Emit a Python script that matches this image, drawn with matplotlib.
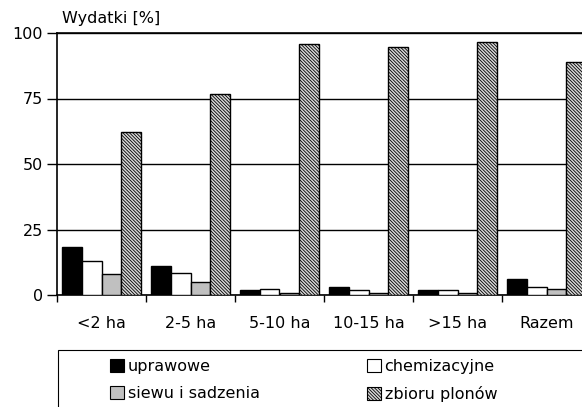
import matplotlib
matplotlib.use("Agg")
import matplotlib.pyplot as plt
from matplotlib.patches import Rectangle, Patch
import numpy as np

plt.rcParams['font.family'] = ['DejaVu Sans']
plt.rcParams['hatch.linewidth'] = 0.6
plt.rcParams['hatch.color'] = '#303030'

categories = ["<2 ha", "2-5 ha", "5-10 ha", "10-15 ha", ">15 ha", "Razem"]
series_names = ["uprawowe", "chemizacyjne", "siewu i sadzenia", "zbioru plonów"]
uprawowe = [18.2, 11.2, 1.9, 2.9, 1.9, 6.1]
chemizacyjne = [13.0, 8.3, 2.3, 1.8, 1.9, 2.9]
siewu = [7.9, 5.1, 0.9, 0.9, 0.9, 2.4]
zbioru = [62.1, 76.8, 95.8, 94.8, 96.7, 88.8]
yticks = [0, 25, 50, 75, 100]

FS = 11.5
W, H = 582, 407
fig = plt.figure(figsize=(W / 100, H / 100), dpi=100)
left, right, top, bottom = 57, 591, 33, 295
ax = fig.add_axes([left / W, 1 - bottom / H, (right - left) / W, (bottom - top) / H])

x = np.arange(len(categories))
bw = 0.224
styles = [
    dict(facecolor="black", edgecolor="black"),
    dict(facecolor="white", edgecolor="black"),
    dict(facecolor="#c0c0c0", edgecolor="black"),
    dict(facecolor="#d8d8d8", edgecolor="black", hatch="\\" * 10),
]
data = [uprawowe, chemizacyjne, siewu, zbioru]
handles = []
for i, (vals, st) in enumerate(zip(data, styles)):
    ax.bar(x + (i - 1.5) * bw, vals, width=bw, linewidth=1.0, zorder=3, **st)
    handles.append(Patch(linewidth=0.8, label=series_names[i], **st))

ax.set_xlim(-0.5, len(categories) - 0.5)
ax.set_ylim(0, 100)
ax.set_yticks(yticks)
ax.set_yticklabels([str(v) for v in yticks], fontsize=FS)
ax.tick_params(axis="y", length=7, width=1, pad=3, direction="out")
ax.yaxis.grid(True, color="black", linewidth=1)
ax.set_axisbelow(True)
ax.set_xticks(x)
ax.set_xticklabels(categories, fontsize=FS)
ax.tick_params(axis="x", length=0, pad=15)
ax.set_xticks(np.arange(-0.5, len(categories)), minor=True)
ax.tick_params(axis="x", which="minor", length=5, width=1, color="black")
for s in ["left", "top", "bottom"]:
    ax.spines[s].set_linewidth(1.2)
ax.spines["right"].set_visible(False)

fig.text(62 / W, 1 - 19 / H, "Wydatki [%]", fontsize=FS, va="center", ha="left")

# legend frame
fig.patches.append(Rectangle((58 / W, -0.05), 1.0, 1 - 350 / H + 0.05,
                             transform=fig.transFigure, fill=False,
                             edgecolor="black", linewidth=0.8))
common = dict(loc="upper left", frameon=False, fontsize=FS, handlelength=0.85,
              handleheight=0.85, handletextpad=0.25, labelspacing=0.75,
              borderpad=0, borderaxespad=0)
fig.legend(handles=[handles[0], handles[2]],
           labels=[series_names[0], series_names[2]],
           bbox_to_anchor=(110 / W, 1 - 359 / H), **common)
fig.legend(handles=[handles[1], handles[3]],
           labels=[series_names[1], series_names[3]],
           bbox_to_anchor=(367 / W, 1 - 359 / H), **common)

fig.savefig("out.png", dpi=100)
